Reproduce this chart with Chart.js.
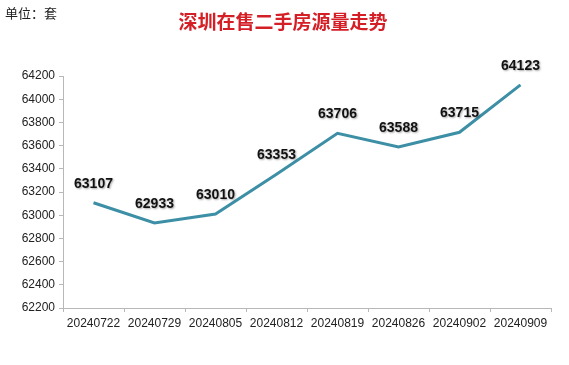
<!DOCTYPE html>
<html>
<head>
<meta charset="utf-8">
<script src="https://cdn.jsdelivr.net/npm/chart.js@4"></script>
<style>
    html, body { margin: 0; padding: 0; background: #ffffff; }
    #wrap { position: relative; width: 569px; height: 365px; }
</style>
</head>
<body>
<div id="wrap"><canvas id="stockChart" width="569" height="365"></canvas></div>
<script>
const weeks = ["20240722", "20240729", "20240805", "20240812", "20240819", "20240826", "20240902", "20240909"]
const listings = [63107, 62933, 63010, 63353, 63706, 63588, 63715, 64123]
const yTicks = [62200, 62400, 62600, 62800, 63000, 63200, 63400, 63600, 63800, 64000, 64200]

const chartTitle = "深圳在售二手房源量走势"
const unitText = "单位：套"

// title, unit and the value labels above each point
const textPlugin = {
    id: "texts",
    afterDatasetsDraw(chart) {
        const c = chart.ctx
        c.save()
        c.textBaseline = "middle"
        c.fillStyle = "#222222"
        c.font = "13px 'Noto Sans CJK SC'"
        c.textAlign = "left"
        c.fillText(unitText, 5, 13)

        c.fillStyle = "#d41f26"
        c.font = "bold 19px 'Noto Sans CJK SC'"
        c.textAlign = "center"
        c.fillText(chartTitle, 283, 22)

        const meta = chart.getDatasetMeta(0)
        c.font = "bold 14px 'Liberation Sans'"
        meta.data.forEach((pt, i) => {
            c.shadowColor = "rgba(0,0,0,0.35)"
            c.shadowBlur = 2
            c.shadowOffsetX = 1
            c.shadowOffsetY = 1
            c.fillStyle = "#111111"
            c.fillText(String(listings[i]), pt.x, pt.y - 19)
        })
        c.restore()
    }
}

const ctx = document.getElementById("stockChart")

new Chart(ctx, {
    type: "line",
    data: {
        labels: weeks,
        datasets: [{
            data: listings,
            borderColor: "#3d8fa6",
            borderWidth: 3,
            pointRadius: 0,
            tension: 0,
            fill: false
        }]
    },
    options: {
        responsive: false,
        animation: false,
        layout: { padding: { top: 76, right: 18, bottom: 0, left: 0 } },
        plugins: {
            legend: { display: false },
            title: { display: false },
            tooltip: { enabled: false }
        },
        scales: {
            x: {
                offset: true,
                grid: { display: true, drawOnChartArea: false, offset: true, color: "#b8b8b8", tickLength: 4 },
                border: { color: "#b8b8b8", width: 1 },
                ticks: {
                    color: "#222222",
                    font: { family: "'Liberation Sans'", size: 12 },
                    maxRotation: 0,
                    autoSkip: false,
                    padding: 4
                },
                afterFit: (scale) => { scale.height = 57 }
            },
            y: {
                min: 62200,
                max: 64200,
                afterBuildTicks: (scale) => { scale.ticks = yTicks.map(v => ({ value: v })) },
                grid: { display: true, drawOnChartArea: false, color: "#b8b8b8", tickLength: 4 },
                border: { color: "#b8b8b8", width: 1 },
                ticks: {
                    color: "#222222",
                    font: { family: "'Liberation Sans'", size: 12 },
                    padding: 4,
                    callback: (v) => String(v)
                },
                afterFit: (scale) => { scale.width = 63 }
            }
        }
    },
    plugins: [textPlugin]
})
</script>
</body>
</html>
